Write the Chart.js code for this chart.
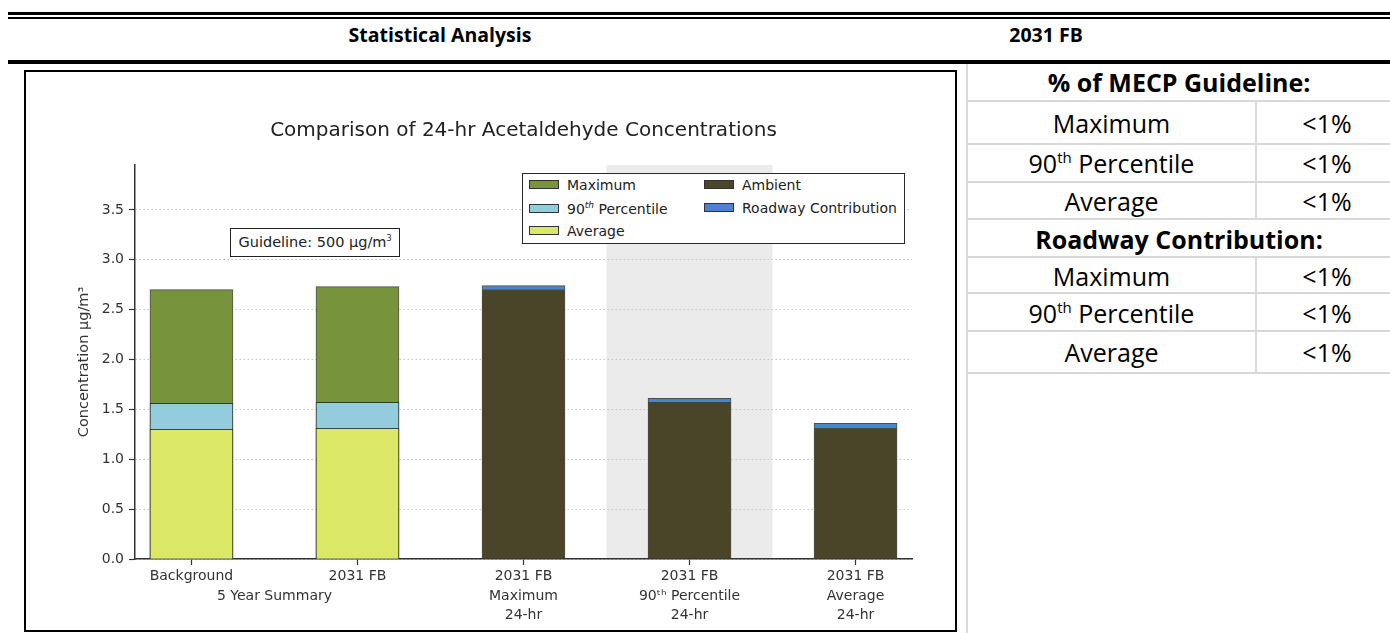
<!DOCTYPE html>
<html>
<head>
<meta charset="utf-8">
<script src="https://cdn.jsdelivr.net/npm/chart.js@4.4.1/dist/chart.umd.min.js"></script>
<style>
  html, body { margin: 0; padding: 0; background: #fff; }
  body { position: relative; width: 1390px; height: 633px; overflow: hidden; font-family: "Open Sans", sans-serif; color: #000; }
  .abs { position: absolute; }
  .rule { background: #000; }
  .hdr { font-weight: 700; font-size: 19.5px; line-height: 24px; text-align: center; white-space: nowrap; }
  #chartBox { left: 24px; top: 70px; width: 933px; height: 562px; border: 2px solid #000; box-sizing: border-box; background: #fff; }
  #chartWrap { position: absolute; left: 0; top: 0; width: 929px; height: 558px; }
  .legend { left: 522px; top: 173px; width: 383px; height: 71px; border: 1.5px solid #2a2a2a; box-sizing: border-box; background: #fff;
            font-family: "DejaVu Sans", sans-serif; font-size: 14px; color: #222; }
  .sw { position: absolute; width: 30px; height: 9px; border: 1px solid #333; box-sizing: border-box; }
  .lt { position: absolute; white-space: nowrap; line-height: 18px; }
  .lt sup { font-size: 9px; font-style: italic; vertical-align: baseline; position: relative; top: -6px; }
  .guide { left: 230px; top: 228px; width: 170px; height: 29px; border: 1.3px solid #222; box-sizing: border-box; background: #fff;
           font-family: "DejaVu Sans", sans-serif; font-size: 14.5px; color: #222; text-align: center; line-height: 26px; white-space: nowrap; }
  .guide sup { font-size: 8px; vertical-align: baseline; position: relative; top: -6px; }
  .hl { background: #d8d8d8; }
  .cell { font-size: 25px; line-height: 34px; text-align: center; white-space: nowrap; }
  .cell.b { font-weight: 700; }
  .cell sup { font-size: 15px; vertical-align: baseline; position: relative; top: -10px; }
</style>
</head>
<body>
<!-- top rules and header row -->
<div class="abs rule" style="left:8px; top:12px; width:1382px; height:3px;"></div>
<div class="abs rule" style="left:8px; top:17px; width:1382px; height:2px;"></div>
<div class="abs hdr" style="left:0px; top:23px; width:880px;">Statistical Analysis</div>
<div class="abs hdr" style="left:946px; top:23px; width:200px;">2031 FB</div>
<div class="abs rule" style="left:8px; top:60px; width:1382px; height:4px;"></div>

<!-- chart -->
<div id="chartBox" class="abs">
  <div id="chartWrap"><canvas id="chart"></canvas></div>
</div>

<div class="abs guide">Guideline: 500 µg/m<sup>3</sup></div>

<div class="abs legend">
  <div class="sw" style="left:6px; top:6px; background:#77933c;"></div>
  <div class="lt" style="left:44px; top:2px;">Maximum</div>
  <div class="sw" style="left:6px; top:30px; background:#93cddd;"></div>
  <div class="lt" style="left:44px; top:26px;">90<sup>th</sup> Percentile</div>
  <div class="sw" style="left:6px; top:52px; background:#dbe866;"></div>
  <div class="lt" style="left:44px; top:48px;">Average</div>
  <div class="sw" style="left:181px; top:6px; background:#4a4529;"></div>
  <div class="lt" style="left:219px; top:2px;">Ambient</div>
  <div class="sw" style="left:181px; top:29px; background:#4a84d0;"></div>
  <div class="lt" style="left:219px; top:25px;">Roadway Contribution</div>
</div>

<!-- right table -->
<div class="abs hl" style="left:966px; top:64px; width:2px; height:569px;"></div>
<div class="abs hl" style="left:968px; top:100px; width:422px; height:2px;"></div>
<div class="abs hl" style="left:968px; top:143px; width:422px; height:2px;"></div>
<div class="abs hl" style="left:968px; top:181px; width:422px; height:2px;"></div>
<div class="abs hl" style="left:968px; top:218px; width:422px; height:2px;"></div>
<div class="abs hl" style="left:968px; top:256px; width:422px; height:2px;"></div>
<div class="abs hl" style="left:968px; top:292px; width:422px; height:2px;"></div>
<div class="abs hl" style="left:968px; top:330px; width:422px; height:2px;"></div>
<div class="abs hl" style="left:968px; top:372px; width:422px; height:2px;"></div>
<div class="abs hl" style="left:1255px; top:102px; width:2px; height:116px;"></div>
<div class="abs hl" style="left:1255px; top:258px; width:2px; height:114px;"></div>

<div class="abs cell b" style="left:968px; top:65px; width:422px;">% of MECP Guideline:</div>
<div class="abs cell" style="left:968px; top:106px; width:287px;">Maximum</div>
<div class="abs cell" style="left:1257px; top:106px; width:140px;">&lt;1%</div>
<div class="abs cell" style="left:968px; top:146px; width:287px;">90<sup>th</sup> Percentile</div>
<div class="abs cell" style="left:1257px; top:146px; width:140px;">&lt;1%</div>
<div class="abs cell" style="left:968px; top:184px; width:287px;">Average</div>
<div class="abs cell" style="left:1257px; top:184px; width:140px;">&lt;1%</div>
<div class="abs cell b" style="left:968px; top:222px; width:422px;">Roadway Contribution:</div>
<div class="abs cell" style="left:968px; top:259px; width:287px;">Maximum</div>
<div class="abs cell" style="left:1257px; top:259px; width:140px;">&lt;1%</div>
<div class="abs cell" style="left:968px; top:296px; width:287px;">90<sup>th</sup> Percentile</div>
<div class="abs cell" style="left:1257px; top:296px; width:140px;">&lt;1%</div>
<div class="abs cell" style="left:968px; top:335px; width:287px;">Average</div>
<div class="abs cell" style="left:1257px; top:335px; width:140px;">&lt;1%</div>

<script>
// ---- data ----
const categoryLine1 = ['Background', '2031 FB', '2031 FB', '2031 FB', '2031 FB'];
const categoryLine2 = ['', '', 'Maximum', '90ᵗʰ Percentile', 'Average'];
const categoryLine3 = ['', '', '24-hr', '24-hr', '24-hr'];
const groupLabel = '5 Year Summary';
const groupMembers = [0, 1];

const maximumValues = [2.70, 2.73, null, null, null];
const percentile90Values = [1.56, 1.57, null, null, null];
const averageValues = [1.30, 1.31, null, null, null];
const ambientValues = [null, null, 2.70, 1.57, 1.31];
const roadwayValues = [null, null, 0.04, 0.04, 0.05];

const yTickValues = [0, 0.5, 1.0, 1.5, 2.0, 2.5, 3.0, 3.5];
const yAxisMax = 3.95;
const highlightedCategory = 3;

// ---- chart ----
const groupCenter = groupMembers.reduce((a, b) => a + b, 0) / groupMembers.length;
const toPoints = arr => arr.map((v, i) => ({ x: i, y: v }));
const edge = 'rgba(35,38,22,0.8)';

const bandPlugin = {
  id: 'band',
  beforeDraw(chart) {
    const { ctx, chartArea, scales } = chart;
    const x0 = scales.x.getPixelForValue(highlightedCategory - 0.5);
    const x1 = scales.x.getPixelForValue(highlightedCategory + 0.5);
    ctx.save();
    ctx.fillStyle = '#ebebeb';
    ctx.fillRect(x0, chartArea.top, x1 - x0, chartArea.bottom - chartArea.top);
    ctx.restore();
  }
};

// bar width: half the category spacing (the group-label tick halves the sample spacing, so ratio 1 here)
const common = { grouped: false, borderWidth: 1, borderColor: edge, categoryPercentage: 1, barPercentage: 1 };

new Chart(document.getElementById('chart'), {
  type: 'bar',
  data: {
    datasets: [
      Object.assign({ label: 'Maximum', data: toPoints(maximumValues), backgroundColor: '#77933c', stack: 'max', order: 3 }, common),
      Object.assign({ label: '90th Percentile', data: toPoints(percentile90Values), backgroundColor: '#93cddd', stack: 'p90', order: 2 }, common),
      Object.assign({ label: 'Average', data: toPoints(averageValues), backgroundColor: '#dbe866', stack: 'avg', order: 1 }, common),
      Object.assign({ label: 'Ambient', data: toPoints(ambientValues), backgroundColor: '#4a4529', stack: 'amb', order: 0 }, common),
      Object.assign({ label: 'Roadway Contribution', data: toPoints(roadwayValues), backgroundColor: '#4a84d0', stack: 'amb', order: 0 }, common)
    ]
  },
  options: {
    responsive: true,
    maintainAspectRatio: false,
    animation: false,
    layout: { padding: { left: 0, right: 43, top: 0, bottom: 0 } },
    plugins: {
      legend: { display: false },
      tooltip: { enabled: false },
      title: {
        display: true,
        text: 'Comparison of 24-hr Acetaldehyde Concentrations',
        fullSize: false,
        color: '#222',
        font: { family: 'DejaVu Sans', size: 20, weight: 'normal', lineHeight: 1.2 },
        padding: { top: 47, bottom: 22 }
      }
    },
    scales: {
      x: {
        type: 'linear',
        bounds: 'data',
        offset: false,
        min: -0.34,
        max: categoryLine1.length - 1 + 0.34,
        afterBuildTicks(scale) {
          const vals = categoryLine1.map((_, i) => i).concat([groupCenter]).sort((a, b) => a - b);
          scale.ticks = vals.map(v => ({ value: v }));
        },
        afterFit(scale) { scale.height = 71; },
        grid: {
          offset: false,
          drawOnChartArea: false,
          drawTicks: true,
          tickLength: 6,
          tickWidth: 1.2,
          tickColor: ctx => (ctx.tick && Math.abs(ctx.tick.value - Math.round(ctx.tick.value)) > 1e-6) ? 'rgba(0,0,0,0)' : '#333'
        },
        border: { display: true, color: '#333', width: 1.5 },
        ticks: {
          autoSkip: false,
          maxRotation: 0,
          minRotation: 0,
          padding: 1.5,
          color: '#333',
          font: { family: 'DejaVu Sans', size: 14, lineHeight: 1.4 },
          callback(value) {
            if (Math.abs(value - groupCenter) < 1e-6) return ['', groupLabel];
            const i = Math.round(value);
            return [categoryLine1[i], categoryLine2[i], categoryLine3[i]].filter(s => s);
          }
        }
      },
      y: {
        type: 'linear',
        stacked: true,
        bounds: 'data',
        min: 0,
        max: yAxisMax,
        afterBuildTicks(scale) { scale.ticks = yTickValues.map(v => ({ value: v })); },
        afterFit(scale) { scale.width = 109; },
        grid: {
          color: '#c4c4c4',
          lineWidth: 1,
          drawTicks: true,
          tickLength: 6,
          tickColor: '#333',
          tickWidth: 1.2,
          tickBorderDash: []
        },
        border: { display: true, color: '#333', width: 1.5, dash: [1.5, 2.5] },
        ticks: {
          padding: 5,
          color: '#333',
          font: { family: 'DejaVu Sans', size: 14 },
          callback: v => Number(v).toFixed(1)
        },
        title: {
          display: true,
          text: 'Concentration µg/m³',
          color: '#333',
          font: { family: 'DejaVu Sans', size: 14.5, lineHeight: 1.2 },
          padding: { top: 50, bottom: 0 }
        }
      }
    }
  },
  plugins: [bandPlugin]
});
</script>
</body>
</html>
